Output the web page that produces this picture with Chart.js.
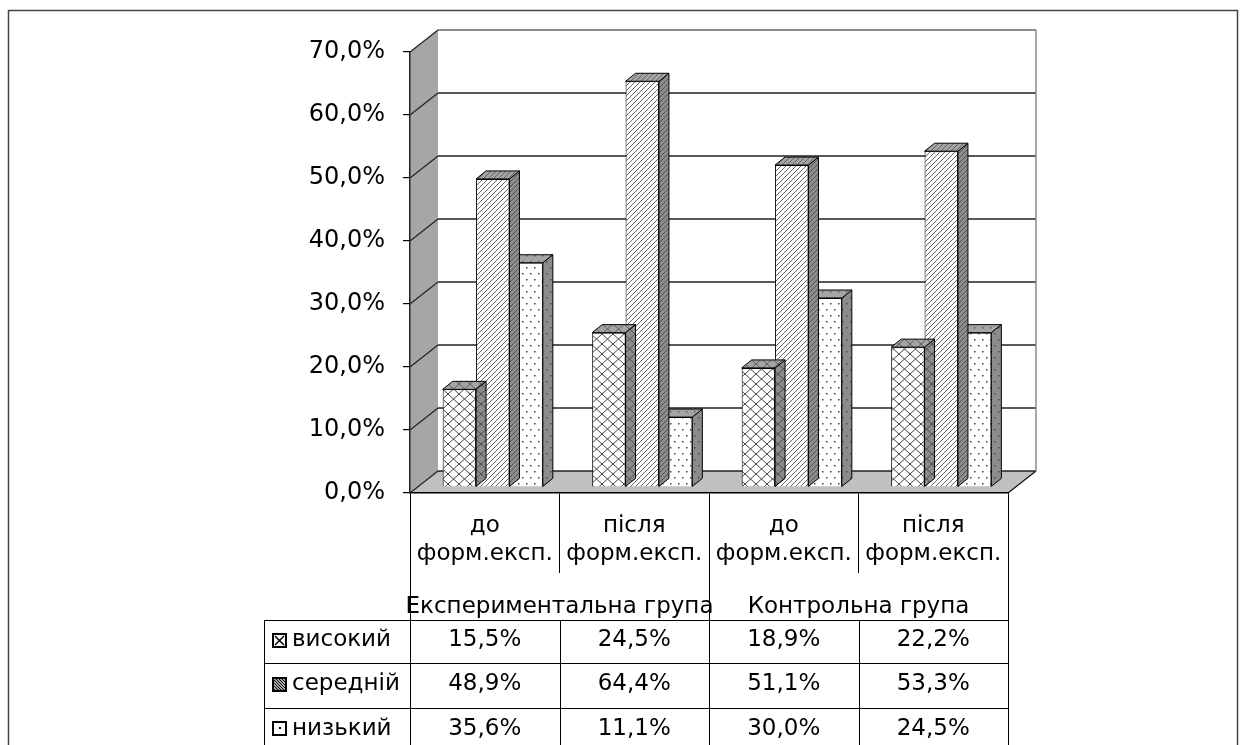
<!DOCTYPE html>
<html><head><meta charset="utf-8">
<script src="https://cdn.jsdelivr.net/npm/chart.js@4"></script>
<style>html,body{margin:0;padding:0;background:#fff;overflow:hidden}canvas{display:block}</style>
</head><body>
<canvas id="c" width="1245" height="745"></canvas>
<script>
const categories = [['до','форм.експ.'],['після','форм.експ.'],['до','форм.експ.'],['після','форм.експ.']];
const groupLabels = ['Експериментальна група','Контрольна група'];
const seriesNames = ['високий','середній','низький'];
const highValues = [15.5,24.5,18.9,22.2];
const midValues = [48.9,64.4,51.1,53.3];
const lowValues = [35.6,11.1,30.0,24.5];
const yTickValues = [0,10,20,30,40,50,60,70];

const FONT = "'DejaVu Sans', sans-serif";
const fmt = v => v.toFixed(1).replace('.', ',') + '%';

function makePattern(kind, bg, fg) {
  const c = document.createElement('canvas');
  let w, h;
  if (kind === 'cross') { w = 11; h = 10; } else if (kind === 'diag') { w = 5; h = 5; } else { w = 8; h = 12; }
  c.width = w; c.height = h;
  const g = c.getContext('2d');
  g.fillStyle = bg; g.fillRect(0, 0, w, h);
  g.strokeStyle = fg; g.fillStyle = fg; g.lineWidth = 1;
  if (kind === 'cross') {
    g.beginPath(); g.moveTo(0, 0); g.lineTo(w, h); g.moveTo(w, 0); g.lineTo(0, h); g.stroke();
  } else if (kind === 'diag') {
    g.lineWidth = 0.9;
    g.beginPath(); g.moveTo(-1, h + 1); g.lineTo(w + 1, -1);
    g.moveTo(-1, 1); g.lineTo(1, -1); g.moveTo(w - 1, h + 1); g.lineTo(w + 1, h - 1); g.stroke();
  } else {
    g.fillRect(2, 3, 1.5, 1.5); g.fillRect(6, 9, 1.5, 1.5);
  }
  return g.createPattern(c, 'repeat');
}
const kinds = ['cross', 'diag', 'dots'];
const frontPatterns = [makePattern('cross', '#ffffff', '#444444'), makePattern('diag', '#ffffff', '#555555'), makePattern('dots', '#ffffff', '#444444')];
const topPatterns = kinds.map(k => makePattern(k, '#a4a4a4', '#5e5e5e'));
const sidePatterns = kinds.map(k => makePattern(k, '#8c8c8c', '#4e4e4e'));

const DX = 28, DY = 22;   // wall depth
const BDX = 8, BDY = 6;   // bar plane offset
const EX = 10, EY = 8;    // bar depth

function line(ctx, x1, y1, x2, y2) { ctx.beginPath(); ctx.moveTo(x1, y1); ctx.lineTo(x2, y2); ctx.stroke(); }
function poly(ctx, pts) { ctx.beginPath(); ctx.moveTo(pts[0][0], pts[0][1]); for (let i = 1; i < pts.length; i++) ctx.lineTo(pts[i][0], pts[i][1]); ctx.closePath(); }

const chart3d = {
  id: 'chart3d',
  beforeDraw(chart) {
    const { ctx, chartArea: a, scales: { x, y } } = chart;
    ctx.save();
    ctx.fillStyle = '#fff'; ctx.fillRect(0, 0, chart.width, chart.height);
    ctx.strokeStyle = '#444'; ctx.lineWidth = 1.5;
    ctx.strokeRect(8.5, 10.5, 1229, 800);
    const y0 = y.getPixelForValue(0), yT = y.getPixelForValue(70);
    ctx.fillStyle = '#a6a6a6';
    poly(ctx, [[a.left, yT], [a.left + DX, yT - DY], [a.left + DX, y0 - DY], [a.left, y0]]); ctx.fill();
    ctx.fillStyle = '#c0c0c0';
    poly(ctx, [[a.left, y0], [a.right, y0], [a.right + DX, y0 - DY], [a.left + DX, y0 - DY]]); ctx.fill();
    ctx.strokeStyle = '#111'; ctx.lineWidth = 1.2;
    line(ctx, a.right, y0, a.right + DX, y0 - DY);
    yTickValues.forEach(v => {
      const py = y.getPixelForValue(v);
      ctx.strokeStyle = '#222'; ctx.lineWidth = 1.2;
      line(ctx, a.left, py, a.left + DX, py - DY);
      ctx.strokeStyle = v === 70 ? '#8a8a8a' : '#222'; ctx.lineWidth = v === 70 ? 2 : 1.5;
      line(ctx, a.left + DX, py - DY, a.right + DX, py - DY);
    });
    ctx.strokeStyle = '#8a8a8a'; ctx.lineWidth = 1.5;
    line(ctx, a.right + DX, yT - DY, a.right + DX, y0 - DY);
    ctx.restore();
  },
  beforeDatasetsDraw(chart) { chart.ctx.save(); chart.ctx.translate(BDX, -BDY); },
  beforeDatasetDraw(chart, args) {
    const ctx = chart.ctx, k = args.index;
    ctx.save();
    ctx.strokeStyle = '#000'; ctx.lineWidth = 1;
    args.meta.data.forEach(el => {
      const { x, y, base, width } = el.getProps(['x', 'y', 'base', 'width'], true);
      const x0 = x - width / 2, x1 = x + width / 2;
      ctx.fillStyle = sidePatterns[k];
      poly(ctx, [[x1, y], [x1 + EX, y - EY], [x1 + EX, base - EY], [x1, base]]); ctx.fill(); ctx.stroke();
      ctx.fillStyle = topPatterns[k];
      poly(ctx, [[x0, y], [x0 + EX, y - EY], [x1 + EX, y - EY], [x1, y]]); ctx.fill(); ctx.stroke();
    });
    ctx.restore();
  },
  afterDatasetsDraw(chart) { chart.ctx.restore(); },
  afterDraw(chart) {
    const { ctx, chartArea: a, scales: { x } } = chart;
    const n = categories.length;
    const bnd = [a.left];
    for (let i = 0; i < n - 1; i++) bnd.push((x.getPixelForValue(i) + x.getPixelForValue(i + 1)) / 2);
    bnd.push(a.right);
    const tableTop = 620, rows = [620, 663, 708, 752], tableLeft = 264, H = chart.height;
    ctx.save();
    ctx.strokeStyle = '#000'; ctx.lineWidth = 1;
    const px = v => Math.round(v) + 0.5;
    [0, 2, 4].forEach(i => line(ctx, px(bnd[i]), a.bottom + 80, px(bnd[i]), H));
    [1, 3].forEach(i => line(ctx, px(bnd[i]), tableTop, px(bnd[i]), H));
    line(ctx, px(tableLeft), tableTop, px(tableLeft), H);
    rows.forEach(r => line(ctx, tableLeft, px(r), bnd[n], px(r)));
    ctx.fillStyle = '#000';
    ctx.font = '23px ' + FONT;
    ctx.textAlign = 'center'; ctx.textBaseline = 'alphabetic';
    groupLabels.forEach((g, gi) => {
      const cx = (bnd[gi * 2] + bnd[gi * 2 + 2]) / 2;
      ctx.fillText(g, cx, 613);
    });
    const series = [highValues, midValues, lowValues];
    series.forEach((vals, r) => {
      const cy = (rows[r] + rows[r + 1]) / 2 - 1;
      ctx.textBaseline = 'middle'; ctx.textAlign = 'center';
      ctx.font = '23px ' + FONT;
      vals.forEach((v, i) => ctx.fillText(fmt(v), x.getPixelForValue(i), cy));
      ctx.textAlign = 'left';
      ctx.fillText(seriesNames[r], 292, cy);
      const kx = 273, ky = Math.round(cy - 7), ks = 13;
      ctx.fillStyle = '#fff'; ctx.fillRect(kx, ky, ks, ks);
      ctx.strokeStyle = '#000'; ctx.lineWidth = 1.5;
      if (r === 0) { line(ctx, kx + 2, ky + 2, kx + ks - 2, ky + ks - 2); line(ctx, kx + ks - 2, ky + 2, kx + 2, ky + ks - 2); }
      else if (r === 1) { ctx.lineWidth = 1.2; for (let t = -ks; t < ks; t += 3) { ctx.save(); ctx.beginPath(); ctx.rect(kx, ky, ks, ks); ctx.clip(); line(ctx, kx + t, ky, kx + t + ks, ky + ks); ctx.restore(); } }
      else { ctx.fillStyle = '#000'; ctx.fillRect(kx + 6, ky + 5, 2, 2); }
      ctx.lineWidth = 2; ctx.strokeRect(kx, ky, ks, ks);
      ctx.fillStyle = '#000';
    });
    ctx.restore();
  }
};

new Chart(document.getElementById('c'), {
  type: 'bar',
  data: {
    labels: categories,
    datasets: [
      { label: seriesNames[0], data: highValues, backgroundColor: frontPatterns[0] },
      { label: seriesNames[1], data: midValues, backgroundColor: frontPatterns[1] },
      { label: seriesNames[2], data: lowValues, backgroundColor: frontPatterns[2] }
    ]
  },
  options: {
    responsive: false,
    animation: false,
    events: [],
    datasets: { bar: { borderColor: '#000', borderWidth: 1, categoryPercentage: 0.67, barPercentage: 1.0, clip: false } },
    layout: { padding: { left: 0, top: 52, right: 237, bottom: 0 } },
    plugins: { legend: { display: false }, tooltip: { enabled: false } },
    scales: {
      x: {
        offset: true,
        afterFit: s => { s.height = 252; },
        grid: { offset: true, drawOnChartArea: false, drawTicks: true, tickLength: 80, color: '#000', lineWidth: 1 },
        border: { display: true, color: '#000', width: 1.5 },
        ticks: { color: '#000', font: { family: FONT, size: 23, lineHeight: 1.22 }, padding: -61, maxRotation: 0, autoSkip: false }
      },
      y: {
        min: 0, max: 70,
        afterFit: s => { s.width = 410; },
        afterBuildTicks: s => { s.ticks = yTickValues.map(v => ({ value: v })); },
        grid: { drawOnChartArea: false, drawTicks: true, tickLength: 7, color: '#000', lineWidth: 1.2 },
        border: { display: true, color: '#222', width: 1.5 },
        ticks: { color: '#000', font: { family: FONT, size: 24 }, padding: 18, callback: v => fmt(v) }
      }
    }
  },
  plugins: [chart3d]
});
</script>
</body></html>
